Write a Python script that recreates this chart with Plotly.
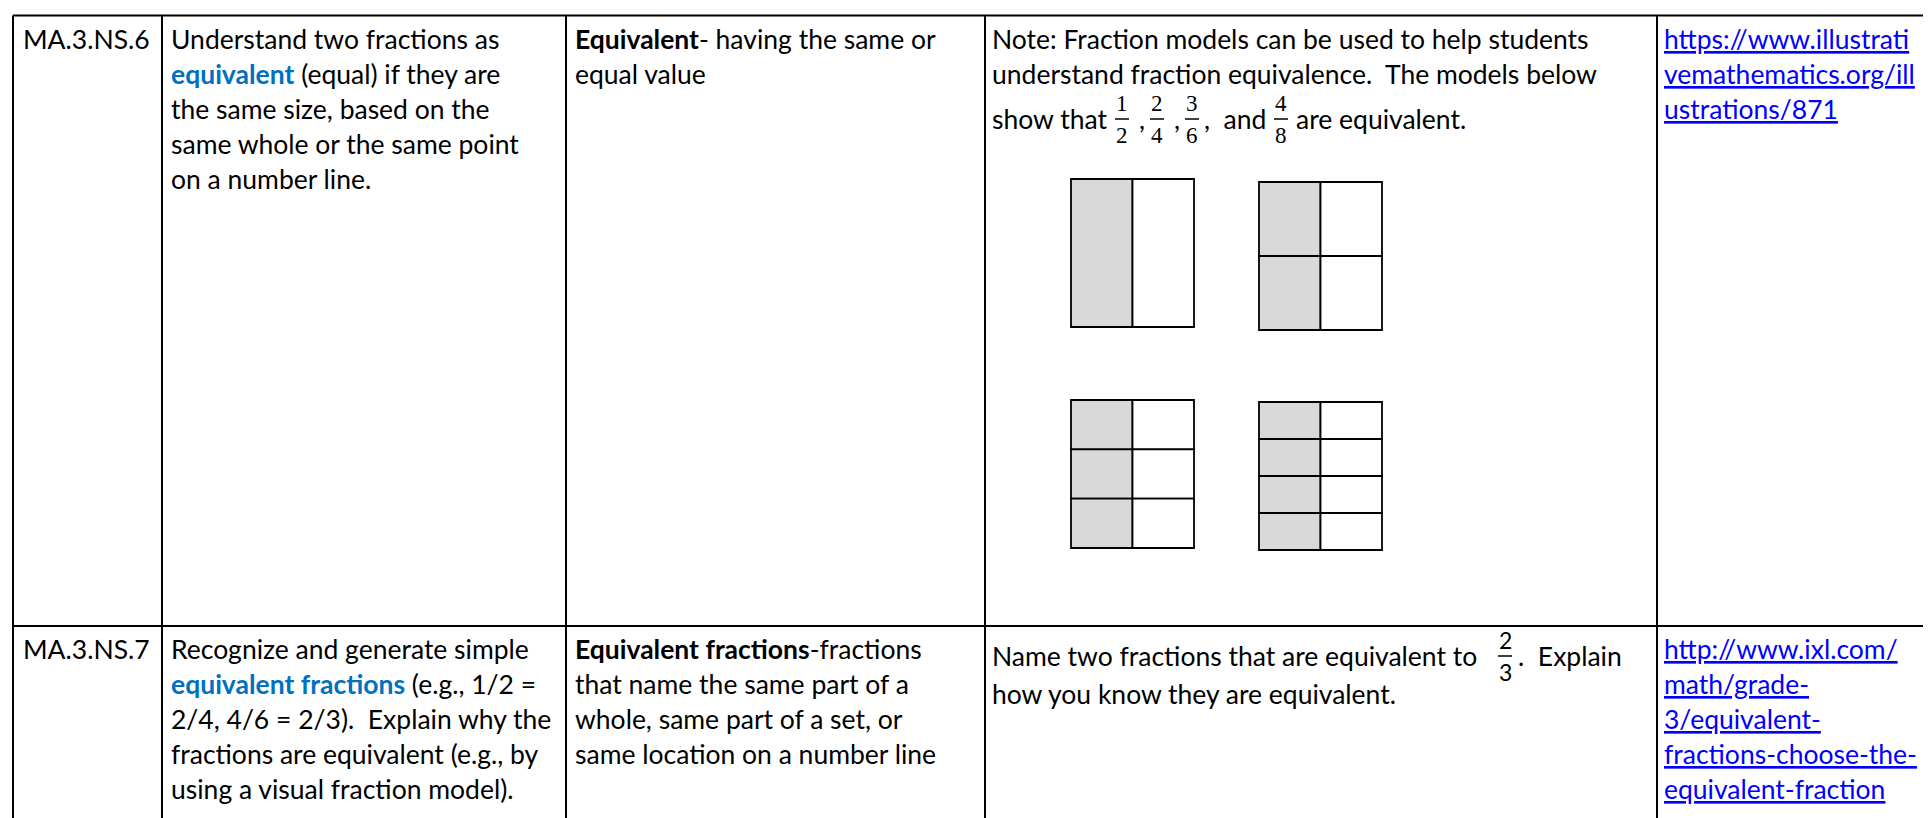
import plotly.graph_objects as go

# table text, one list per cell (one entry per printed line)
standards = ["MA.3.NS.6", "MA.3.NS.7"]

standard_lines = [
    ["Understand two fractions as",
     "<span style='color:#0070C0'><b>equivalent</b></span> (equal) if they are",
     "the same size, based on the",
     "same whole or the same point",
     "on a number line."],
    ["Recognize and generate simple",
     "<span style='color:#0070C0'><b>equivalent fractions</b></span> (e.g., 1/2 =",
     "2/4, 4/6 = 2/3).\u00a0 Explain why the",
     "fractions are equivalent (e.g., by",
     "using a visual fraction model)."],
]

vocab_lines = [
    ["<b>Equivalent</b>- having the same or",
     "equal value"],
    ["<b>Equivalent fractions</b>-fractions",
     "that name the same part of a",
     "whole, same part of a set, or",
     "same location on a number line"],
]

note_lines = ["Note: Fraction models can be used to help students",
              "understand fraction equivalence.\u00a0 The models below"]
note_words = ["show that", ",", ",", ",\u00a0 and", "are equivalent."]

question_words = ["Name two fractions that are equivalent to", ".\u00a0 Explain"]
question_line2 = "how you know they are equivalent."

link_lines = [
    ["https://www.illustrati", "vemathematics.org/ill", "ustrations/871"],
    ["http://www.ixl.com/", "math/grade-", "3/equivalent-",
     "fractions-choose-the-", "equivalent-fraction"],
]

# fractions written in the text
note_num = [1, 2, 3, 4]
note_den = [2, 4, 6, 8]
question_num = [2]
question_den = [3]

# fraction models: shaded parts out of total parts
model_num = [1, 2, 3, 4]
model_den = [2, 4, 6, 8]

# ---- layout (pixels) ----
W, H = 1931, 818
col_edges = [5, 154, 558, 977, 1649, 1927]
row_tops = [7.5, 618]
first_line = 23
line_h = 35
pad = 7

FONT = "Lato"
FS = 26.5
BLACK = "#000000"
LINK = "#0000FF"

fig = go.Figure()
shapes = []
annotations = []


def txt(x, y, s, color=BLACK, size=FS, family=FONT, xanchor="left"):
    annotations.append(dict(
        x=x, y=y, xref="x", yref="y", text=s, showarrow=False,
        xanchor=xanchor, yanchor="middle", align="left",
        font=dict(family=family, size=size, color=color)))


def frac(xc, yc, num, den, family, size, gap):
    txt(xc, yc - gap, str(num), size=size, family=family, xanchor="center")
    txt(xc, yc + gap, str(den), size=size, family=family, xanchor="center")
    shapes.append(dict(type="line", xref="x", yref="y",
                       x0=xc - 7, x1=xc + 7, y0=yc, y1=yc,
                       line=dict(color=BLACK, width=1.5)))


# grid lines
for x in col_edges:
    shapes.append(dict(type="line", xref="x", yref="y", x0=x, x1=x,
                       y0=row_tops[0], y1=H + 10,
                       line=dict(color=BLACK, width=2)))
for y in row_tops:
    shapes.append(dict(type="line", xref="x", yref="y", x0=col_edges[0],
                       x1=col_edges[-1], y0=y, y1=y,
                       line=dict(color=BLACK, width=2)))

# cut-off text above the table
txt(662, -9, "p", xanchor="center")
txt(703, -9, "p", xanchor="center")

# plain text columns
for r in range(2):
    y0 = row_tops[r] + first_line
    txt(col_edges[0] + pad + 1, y0, standards[r])
    for i, s in enumerate(standard_lines[r]):
        txt(col_edges[1] + pad, y0 + i * line_h, s)
    for i, s in enumerate(vocab_lines[r]):
        txt(col_edges[2] + pad, y0 + i * line_h, s)
    for i, s in enumerate(link_lines[r]):
        txt(col_edges[4] + pad - 2, y0 + i * line_h, "<u>" + s + "</u>", color=LINK)

# note cell, row 1
y0 = row_tops[0] + first_line
for i, s in enumerate(note_lines):
    txt(col_edges[3] + pad - 2, y0 + i * line_h, s)
yf = 111
word_x = [982, 1129, 1164, 1194, 1286]
for x, s in zip(word_x, note_words):
    txt(x, yf, s)
for xc, n, d in zip([1114, 1149, 1184, 1273], note_num, note_den):
    frac(xc, yf, n, d, "Liberation Serif", 23, 16)

# fraction models
model_x = [1063, 1251, 1063, 1251]
model_y = [171, 174, 392, 394]
mw, mh = 123, 148
for x0, y0m, n, d in zip(model_x, model_y, model_num, model_den):
    rows = d // 2
    rh = mh / rows
    for k in range(rows):
        for c in range(2):
            shapes.append(dict(
                type="rect", xref="x", yref="y",
                x0=x0 + c * mw / 2, x1=x0 + (c + 1) * mw / 2,
                y0=y0m + k * rh, y1=y0m + (k + 1) * rh,
                fillcolor="#D9D9D9" if (c == 0 and k < n) else "white",
                line=dict(color=BLACK, width=1.8)))

# question cell, row 2
yq = 648
txt(982, yq, question_words[0])
frac(1497, yq, question_num[0], question_den[0], FONT, 23, 16)
txt(1508, yq, question_words[1])
txt(982, 686, question_line2)

fig.update_layout(
    width=W, height=H,
    margin=dict(l=0, r=0, t=0, b=0),
    paper_bgcolor="white", plot_bgcolor="white",
    xaxis=dict(range=[0, W], visible=False, fixedrange=True),
    yaxis=dict(range=[H, 0], visible=False, fixedrange=True),
    shapes=shapes, annotations=annotations,
    showlegend=False,
)

fig.write_html("out.html")
